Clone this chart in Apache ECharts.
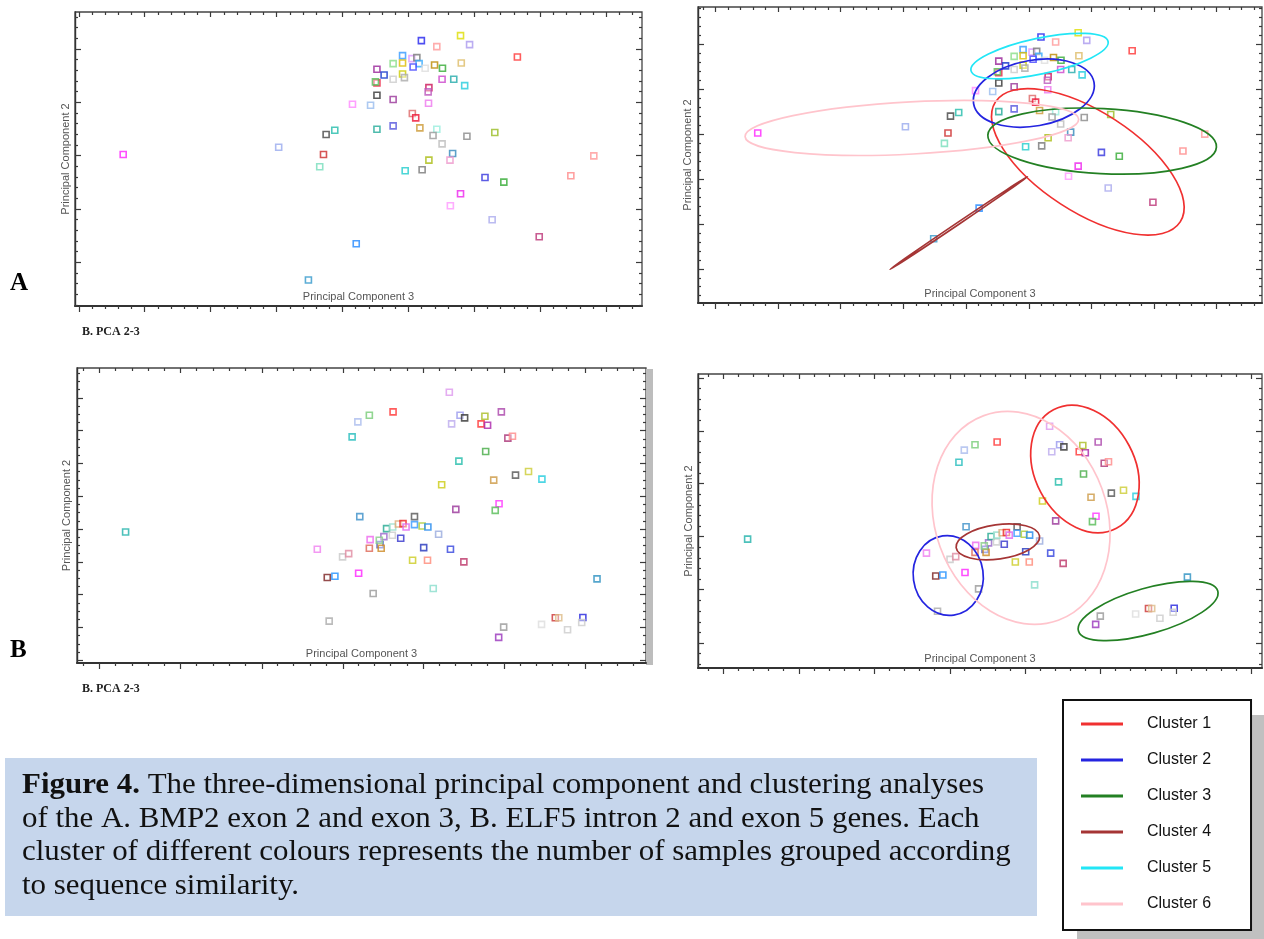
<!DOCTYPE html>
<html>
<head>
<meta charset="utf-8">
<script src="https://cdn.jsdelivr.net/npm/echarts@6/dist/echarts.min.js"></script>
<style>html,body{margin:0;padding:0;background:#fff}#c{width:1264px;height:939px}</style>
</head>
<body>
<div id="c"></div>
<script>
// ---------- DATA (scores in arbitrary PCA units) ----------
// Panel A: BMP2 exon 2 and exon 3 (same samples in both A views)
const pc3A = [128,541,620,747,650,660,667,690,737,785,802,845,845,802,802,802,821,845,845,870,870,870,875,895,908,914,898,920,930,961,955,976,975,1006,1024,1048,1026,1035,940,938,939,896,905,916,961,951,975,1041,1115,1003,996,940,922,877,1089,1139,1024,997,1108,1233,1175,1317,1378,798];
const pc2A = [455,477,78,187,418,455,515,528,606,603,531,541,620,633,670,711,694,728,681,752,730,697,686,743,746,728,718,797,714,779,724,714,681,681,812,785,730,662,656,643,609,578,565,535,531,512,487,510,521,458,438,438,409,406,386,372,337,301,259,208,748,391,451,673];
const sampleColorsA = ['#ff22ff','#99aaee','#3399cc','#2288ff','#77ddbb','#cc2a2a','#444444','#22bbaa','#ff88ff','#99bbee','#22aa99','#5555dd','#993399','#333333','#ee2244','#992299','#1133cc','#88dd88','#cccccc','#3399ff','#ddbb00','#cccc00','#aaaaaa','#dd99ff','#777777','#33aaff','#4444ff','#2222ee','#dddddd','#ff9999','#bb8800','#33aa33','#cc44cc','#22aaaa','#dddd00','#aa99ee','#ddbb66','#22ccdd','#cc1155','#bb55bb','#ee77ee','#dd6666','#ee1133','#cc9933','#99eedd','#999999','#bbbbbb','#888888','#99bb22','#3388bb','#ee99cc','#aabb11','#777777','#22cccc','#3333dd','#33aa33','#ee22ee','#ff99ff','#aaaaee','#bb3377','#ff3333','#ff8888','#ff9999','#55bb55'];

// Panel B: ELF5 intron 2 and exon 5
const pc3B = [127,628,694,710,654,674,659,736,774,739,766,764,792,795,802,790,809,824,825,840,852,860,846,882,882,902,917,945,906,877,916,931,976,1011,990,953,998,1068,1089,1103,1093,1146,1180,1215,1126,1138,1056,1073,1066,1109,1001,1013,979,973,826,764,734,719,1359,1250,1259,1322,1319,1214,1282,1115,1102];
const pc2B = [394,342,319,329,257,261,126,270,209,440,371,345,356,345,380,369,404,384,409,418,419,409,375,440,416,412,409,387,347,309,309,224,342,304,462,536,607,636,550,479,459,565,576,553,676,682,719,715,742,755,745,737,719,814,755,745,725,680,253,136,136,137,122,116,100,108,77];
const sampleColorsB = ['#20b2aa','#f080f0','#c8c8c8','#e08aa0','#7a1f1f','#1e90ff','#aaaaaa','#ff22ff','#999999','#3a8fc8','#ee66ee','#dd6655','#4455cc','#cc8822','#9966cc','#88cc88','#20a890','#cccccc','#99ddcc','#ddaa77','#ee2222','#dd66ee','#3333cc','#555555','#3399ff','#aacc33','#2288ee','#99aadd','#2233bb','#cccc22','#ff8877','#88ddcc','#3344dd','#bb3366','#993399','#cccc11','#22bbaa','#44aa44','#cc9944','#ff33ff','#55bb55','#555555','#cccc33','#22ccdd','#aa3377','#ff8888','#ff3333','#aa22aa','#aabb22','#aa44aa','#9999ee','#333333','#bbaaee','#dd99ee','#ff3333','#77cc77','#aabbee','#22bbbb','#2a90c0','#cc3333','#ddbb88','#2222dd','#cccccc','#dddddd','#cccccc','#999999','#9933bb'];

// Clusters
const clusterNames = ['Cluster 1','Cluster 2','Cluster 3','Cluster 4','Cluster 5','Cluster 6'];
const clusterColors = ['#f03030','#2424e0','#238023','#a53535','#22e6f6','#ffc4cc'];
// cluster ellipses: [cluster index, centre PC3, centre PC2, semi-major, semi-minor (PC3 units), tilt deg]
const ellipsesA = [[4,916,729,196,50,12],[1,900,597,171,92,10],[2,1091,426,320,91,-3],[0,1051,352,308,140,-33],[5,559,473,467,73,3],[3,690,134,232,3,34]];
const ellipsesB = [[0,1072,655,188,140,-62],[5,893,473,305,241,-70],[3,828,384,118,48,8],[1,689,259,112,98,-82],[2,1249,127,203,64,16]];

// Tick positions
const xTicksA = [10,185,360,535,710,886,1061,1236,1411];
const yTicksA = [-29,131,291,452,612,772];
const xTicksB = [59,271,483,695,906,1116,1327,1538];
const yTicksBLeft = [8,107,206,304,403,501,600,699,797];
const yTicksBRight = [8,206,403,600,797,994];

const captionLines = [
  '{b|Figure 4.} The three-dimensional principal component and clustering analyses',
  'of the A. BMP2 exon 2 and exon 3, B. ELF5 intron 2 and exon 5 genes. Each',
  'cluster of different colours represents the number of samples grouped according',
  'to sequence similarity.'
];

// ---------- LAYOUT ----------
const panels = [
  {grid:{left:75, top:12, width:567, height:294}, x:[0,1506], y:[0,883], xt:xTicksA, yt:yTicksA, xdiv:5, ydiv:5, row:'A', ell:null, gap:4},
  {grid:{left:698, top:7, width:564, height:296}, x:[-39,1538], y:[-151,904], xt:xTicksA, yt:yTicksA, xdiv:5, ydiv:5, row:'A', ell:ellipsesA, gap:5},
  {grid:{left:77, top:368, width:569, height:295}, x:[0,1487], y:[0,887], xt:xTicksB, yt:yTicksBLeft, xdiv:5, ydiv:4, row:'B', ell:null, gap:5},
  {grid:{left:698, top:374, width:564, height:294}, x:[-12,1568], y:[-85,1008], xt:xTicksB, yt:yTicksBRight, xdiv:5, ydiv:5, row:'B', ell:ellipsesB, gap:4}
];

function minorTicks(majors, div, lo, hi) {
  const step = (majors[majors.length-1]-majors[0])/(majors.length-1)/div;
  const out = [];
  for (let k = Math.ceil((lo - majors[0])/step); majors[0] + k*step <= hi; k++) {
    if (((k % div) + div) % div === 0) continue;
    out.push(majors[0] + k*step);
  }
  return out;
}
const inRange = (v, lo, hi) => v.filter(t => t >= lo && t <= hi);
const mkData = (xs, ys, cs) => xs.map((x, i) => ({value:[x, ys[i]], itemStyle:{borderColor:cs[i]}}));
const dataA = mkData(pc3A, pc2A, sampleColorsA);
const dataB = mkData(pc3B, pc2B, sampleColorsB);

const TICK = '#3a3a3a';
const titleStyle = {color:'#555', fontSize:11, fontFamily:'Liberation Sans'};
const grids = [], xAxes = [], yAxes = [], series = [];

function renderEllipse(params, api) {
  const c = api.coord([api.value(0), api.value(1)]);
  const a = api.size([api.value(2), 0])[0];
  const b = Math.max(api.size([api.value(3), 0])[0], 0.6);
  return {
    type:'ellipse', x:c[0], y:c[1], rotation: api.value(4)*Math.PI/180,
    shape:{cx:0, cy:0, rx:a, ry:b},
    style:{fill:'none', stroke: api.visual('color'), lineWidth:1.7}
  };
}

panels.forEach((p, i) => {
  grids.push(Object.assign({show:true, borderColor:'#444', borderWidth:1.3, backgroundColor:'#fff'}, p.grid));
  const xMaj = inRange(p.xt, p.x[0], p.x[1]), xMin = minorTicks(p.xt, p.xdiv, p.x[0], p.x[1]);
  const yMaj = inRange(p.yt, p.y[0], p.y[1]), yMin = minorTicks(p.yt, p.ydiv, p.y[0], p.y[1]);
  const base = {type:'value', gridIndex:i, splitLine:{show:false}, axisLabel:{show:false}, minorTick:{show:false}, silent:true};
  [['bottom', false, xMaj, 6, true], ['bottom', false, xMin, 3, false], ['top', true, xMaj, 5, false], ['top', true, xMin, 3, false]]
    .forEach(([pos, inside, vals, len, line], j) => {
      xAxes.push(Object.assign({}, base, {
        min:p.x[0], max:p.x[1], position:pos,
        axisLine:{show:line, onZero:false, lineStyle:{color:'#333', width:2}},
        axisTick:{show:true, inside:inside, length:len, customValues:vals, lineStyle:{color:TICK, width:1.2}},
        name: j === 0 ? 'Principal Component 3' : '', nameLocation:'middle', nameGap:-15, nameTextStyle:titleStyle
      }));
    });
  [['left', yMaj, 6, true], ['left', yMin, 3, false], ['right', yMaj, 6, false], ['right', yMin, 3, false]]
    .forEach(([pos, vals, len, line], j) => {
      yAxes.push(Object.assign({}, base, {
        min:p.y[0], max:p.y[1], position:pos,
        axisLine:{show:line, onZero:false, lineStyle:{color:'#333', width:1.4}},
        axisTick:{show:true, inside:true, length:len, customValues:vals, lineStyle:{color:TICK, width:1.2}},
        name: j === 0 ? 'Principal Component 2' : '', nameLocation:'middle', nameRotate:90, nameGap:p.gap, nameTextStyle:titleStyle
      }));
    });
  series.push({
    type:'scatter', xAxisIndex:4*i, yAxisIndex:4*i, data: p.row === 'A' ? dataA : dataB,
    symbol:'rect', symbolSize:6, itemStyle:{color:'rgba(255,255,255,0.5)', borderWidth:1.6}, silent:true, z:3
  });
  if (p.ell) {
    clusterNames.forEach((name, c) => {
      const items = p.ell.filter(e => e[0] === c).map(e => e.slice(1));
      if (items.length) series.push({
        type:'custom', name:name, xAxisIndex:4*i, yAxisIndex:4*i, data:items, renderItem:renderEllipse,
        itemStyle:{color:clusterColors[c]}, clip:true, silent:true, z:4
      });
    });
  }
});

const chart = echarts.init(document.getElementById('c'), null, {renderer:'canvas'});
chart.setOption({
  animation:false,
  backgroundColor:'#fff',
  grid:grids, xAxis:xAxes, yAxis:yAxes, series:series,
  legend:{
    orient:'vertical', left:1063, top:700, padding:[15,40,17,18],
    backgroundColor:'#fff', borderColor:'#111', borderWidth:2,
    itemWidth:42, itemHeight:3, itemGap:18, selectedMode:false, z:10,
    textStyle:{fontSize:16, color:'#111', fontFamily:'Liberation Sans', lineHeight:18, padding:[0,0,0,19]},
    data: clusterNames.map((n, i) => ({name:n, icon:'rect', itemStyle:{color:clusterColors[i], borderWidth:0}}))
  },
  graphic:[
    {type:'rect', z:0, shape:{x:646, y:369, width:7, height:296}, style:{fill:'#bdbdbd'}},
    {type:'text', x:10, y:271, style:{text:'A', fontSize:25, fontWeight:'bold', fontFamily:'Liberation Serif', fill:'#000', align:'left', verticalAlign:'top'}},
    {type:'text', x:10, y:638, style:{text:'B', fontSize:25, fontWeight:'bold', fontFamily:'Liberation Serif', fill:'#000', align:'left', verticalAlign:'top'}},
    {type:'text', x:82, y:326, style:{text:'B. PCA 2-3', fontSize:12, fontWeight:'bold', fontFamily:'Liberation Serif', fill:'#222', align:'left', verticalAlign:'top'}},
    {type:'text', x:82, y:683, style:{text:'B. PCA 2-3', fontSize:12, fontWeight:'bold', fontFamily:'Liberation Serif', fill:'#222', align:'left', verticalAlign:'top'}},
    {type:'rect', z:0, shape:{x:5, y:758, width:1032, height:158}, style:{fill:'#c6d6ec'}},
    {type:'text', z:1, x:22, y:769, scaleX:1.085, style:{
      text: captionLines.join('\n'), fontSize:28.5, fontFamily:'Liberation Serif', fill:'#111', lineHeight:33.5,
      align:'left', verticalAlign:'top',
      rich:{b:{fontSize:28.5, fontWeight:'bold', fontFamily:'Liberation Serif', fill:'#111', lineHeight:33.5}}
    }},
    {type:'rect', z:1, shape:{x:1077, y:715, width:187, height:224}, style:{fill:'#c0c0c0'}}
  ]
});
</script>
</body>
</html>
